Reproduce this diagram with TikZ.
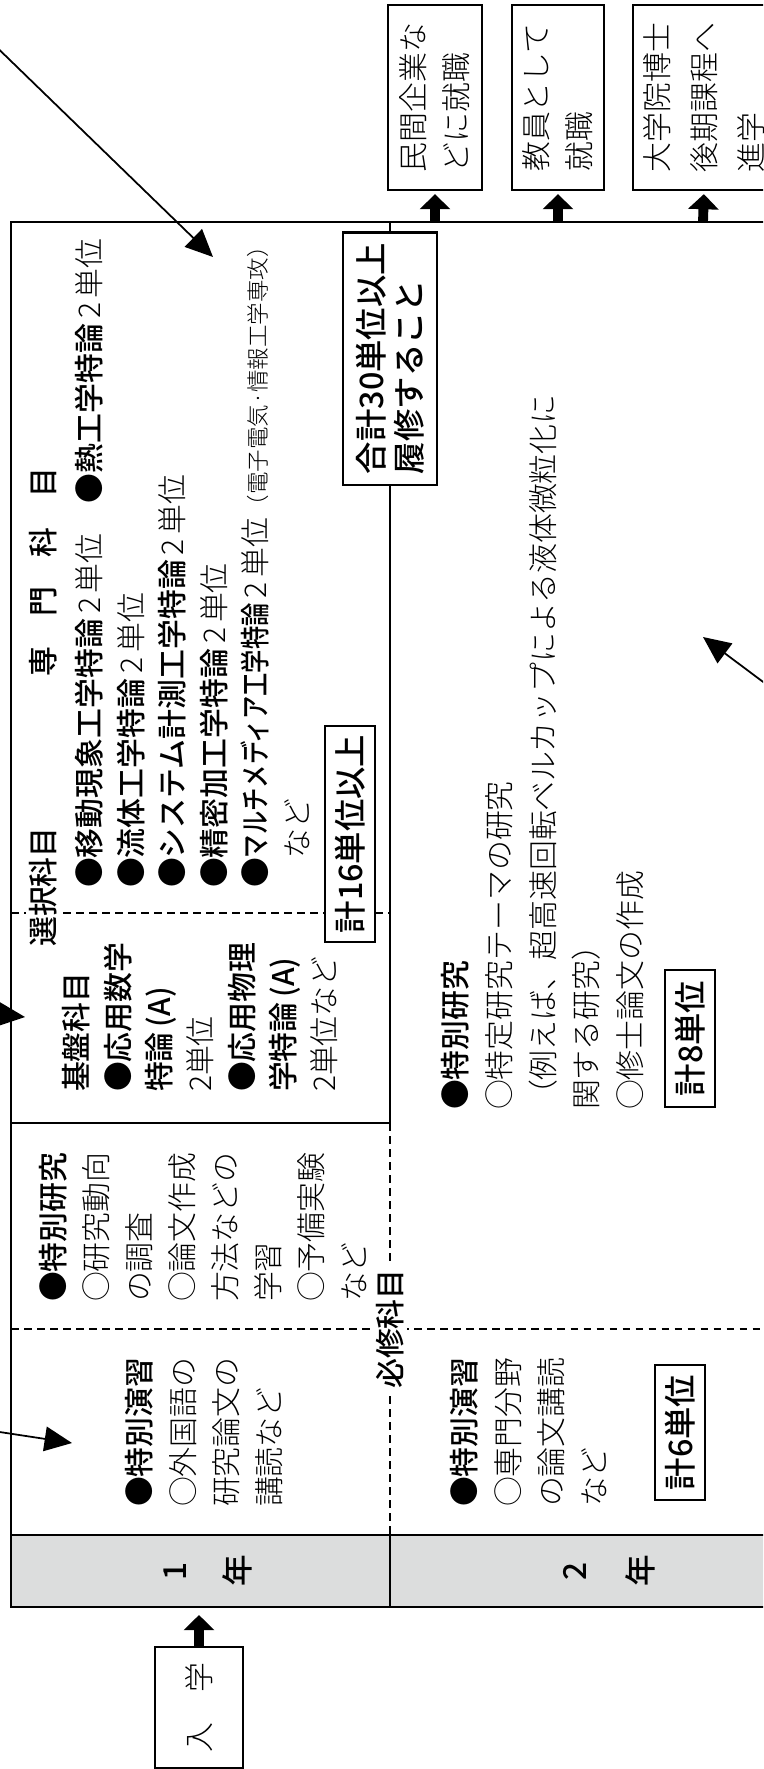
\documentclass[tikz,border=0pt]{standalone}
\usepackage{fontspec}
\usepackage{graphicx}
\newfontfamily\goth{Noto Sans CJK JP Medium}
\newfontfamily\minc{Noto Sans CJK JP Light}
\usetikzlibrary{arrows.meta}
\definecolor{barfill}{RGB}{220,221,221}

\begin{document}
\begin{tikzpicture}[
        x = 0.01cm, y = -0.01cm,
        line width = 0.6pt,
        txt/.style = {rotate = 90, anchor = north west, inner sep = 0pt, align = left,
                      font = \minc\fontsize{8.5}{11.8}\selectfont},
        lbl/.style = {rotate = 90, inner sep = 0pt, font = \goth\fontsize{8.5}{10}\selectfont},
        yr/.style = {rotate = 90, inner sep = 0pt, font = \goth\fontsize{9}{10}\selectfont},
        credit/.style = {rotate = 90, draw, fill = white, inner sep = 2.5pt, minimum height = 0.5cm,
                         font = \goth\fontsize{9.2}{10.8}\selectfont},
        goal/.style = {rotate = 90, draw, align = left, inner sep = 0pt,
                       font = \minc\fontsize{8.5}{12.2}\selectfont},
        divider/.style = {dash pattern = on 2.2pt off 1.5pt},
        fat/.style = {line width = 2.8pt, -{Triangle[length = 4.3pt, width = 8.5pt]}},
        pointer/.style = {line width = 0.5pt, -{Triangle[length = 7.8pt, width = 7pt]}}
    ]

    \useasboundingbox (0,0) rectangle (763,1769);
    \clip (0,0) rectangle (763,1769);

    % table
    \fill[barfill] (11,1535) rectangle (800,1607);
    \draw (11,222) rectangle (800,1607);
    \draw (11,1535) -- (800,1535);
    \draw (390,222) -- (390,1123) (11,1123) -- (390,1123) (390,1535) -- (390,1607);
    \draw[divider] (390,1123) -- (390,1535) (11,913) -- (390,913) (11,1329) -- (800,1329);

    % year 1
    \node[lbl, fill = white, inner sep = 1pt] (sentaku) at (43,887) {選択科目};
    \node[lbl] (senmon) at (43,572) {専　門　科　目};
    \node[txt, font = \minc\fontsize{8.5}{11.8}\selectfont] (senmonlist) at (74.5,889)
        {{\goth ●移動現象工学特論}\,2\,単位\quad{\goth ●熱工学特論}\,2\,単位\\
         {\goth ●流体工学特論}\,2\,単位\\
         {\goth ●システム計測工学特論}\,2\,単位\\
         {\goth ●精密加工学特論}\,2\,単位\\
         {\goth ●\scalebox{0.78}[1]{マルチメディア工学特論}}\,2\,単位{\fontsize{6.4}{8}\selectfont（電子電気·情報工学専攻）}\\
         　など};
    \node[credit, minimum width = 2.12cm] (c16) at (350,834) {計16単位以上};
    \node[credit, align = left, inner sep = 3pt, minimum width = 2.47cm, minimum height = 0.94cm,
          font = \goth\fontsize{9.2}{10.8}\selectfont] (c30) at (390,358.5)
        {合計30単位以上\\履修すること};

    \node[txt, font = \minc\fontsize{8.5}{11.75}\selectfont] (kiban) at (61.5,1093)
        {{\goth 基盤科目}\\
         {\goth ●応用数学}\\
         {\goth 特論\,(A)}\\
         2単位\\
         {\goth ●応用物理}\\
         {\goth 学特論\,(A)}\\
         2単位など};

    \node[txt, font = \minc\fontsize{8.5}{12.2}\selectfont] (kenkyu1) at (38.5,1303)
        {{\goth ●特別研究}\\
         ○研究動向\\
         の調査\\
         ○論文作成\\
         方法などの\\
         学習\\
         ○予備実験\\
         など};

    \node[txt, font = \minc\fontsize{8.5}{12.3}\selectfont] (enshu1) at (124.5,1508)
        {{\goth ●特別演習}\\
         ○外国語の\\
         研究論文の\\
         講読など};

    \node[lbl, fill = white, inner sep = 1pt] (hisshu) at (390,1329) {必修科目};

    % year 2
    \node[txt, font = \minc\fontsize{8.5}{12.4}\selectfont] (kenkyu2) at (440.5,1111)
        {{\goth ●特別研究}\\
         ○特定研究テーマの研究\\
         （例えば、超高速回転ベルカップによる液体微粒化に\\
         関する研究）\\
         ○修士論文の作成};
    \node[credit, minimum width = 1.37cm] (c8) at (690,1038.5) {計8単位};

    \node[txt, font = \minc\fontsize{8.5}{12.3}\selectfont] (enshu2) at (449.5,1508)
        {{\goth ●特別演習}\\
         ○専門分野\\
         の論文講読\\
         など};
    \node[credit, minimum width = 1.35cm] (c6) at (680,1432.5) {計6単位};

    \node[yr] (y1a) at (175,1571) {1};
    \node[yr] (y1b) at (237,1571) {年};
    \node[yr] (y2a) at (575,1571) {2};
    \node[yr] (y2b) at (640,1571) {年};

    % entry and careers
    \node[goal, minimum width = 1.21cm, minimum height = 0.88cm] (entry) at (199,1707.5) {入　学};
    \node[goal, minimum width = 1.85cm, minimum height = 0.94cm] (private) at (435,97.5)
        {民間企業な\\どに就職};
    \node[goal, minimum width = 1.85cm, minimum height = 0.92cm] (teacher) at (558,97.5)
        {教員として\\就職};
    \node[goal, minimum width = 1.85cm, minimum height = 1.42cm,
          font = \minc\fontsize{8.5}{13.4}\selectfont] (doctor) at (704,97.5)
        {大学院博士\\後期課程へ\\進学};

    \coordinate (in) at (199,1607);
    \coordinate (out1) at (435,222);
    \coordinate (out2) at (558,222);
    \coordinate (out3) at (703,222);
    \draw[fat, shorten >= 0.08cm] (entry.east) -- (in);
    \draw[fat, shorten >= 0.03cm] (out1) -- (private.west);
    \draw[fat, shorten >= 0.03cm] (out2) -- (teacher.west);
    \draw[fat, shorten >= 0.03cm] (out3) -- (doctor.west |- private.west);

    % pointers from outside
    \coordinate (from1) at (-20,31);
    \coordinate (to1) at (213,257);
    \coordinate (from2) at (-60,1008);
    \coordinate (to2) at (25,1017);
    \coordinate (from3) at (-20,1429);
    \coordinate (to3) at (72,1443);
    \coordinate (from4) at (790,702);
    \coordinate (to4) at (703,637);
    \draw[pointer] (from1) -- (to1);
    \draw[pointer] (from2) -- (to2);
    \draw[pointer] (from3) -- (to3);
    \draw[pointer] (from4) -- (to4);

\end{tikzpicture}
\end{document}
